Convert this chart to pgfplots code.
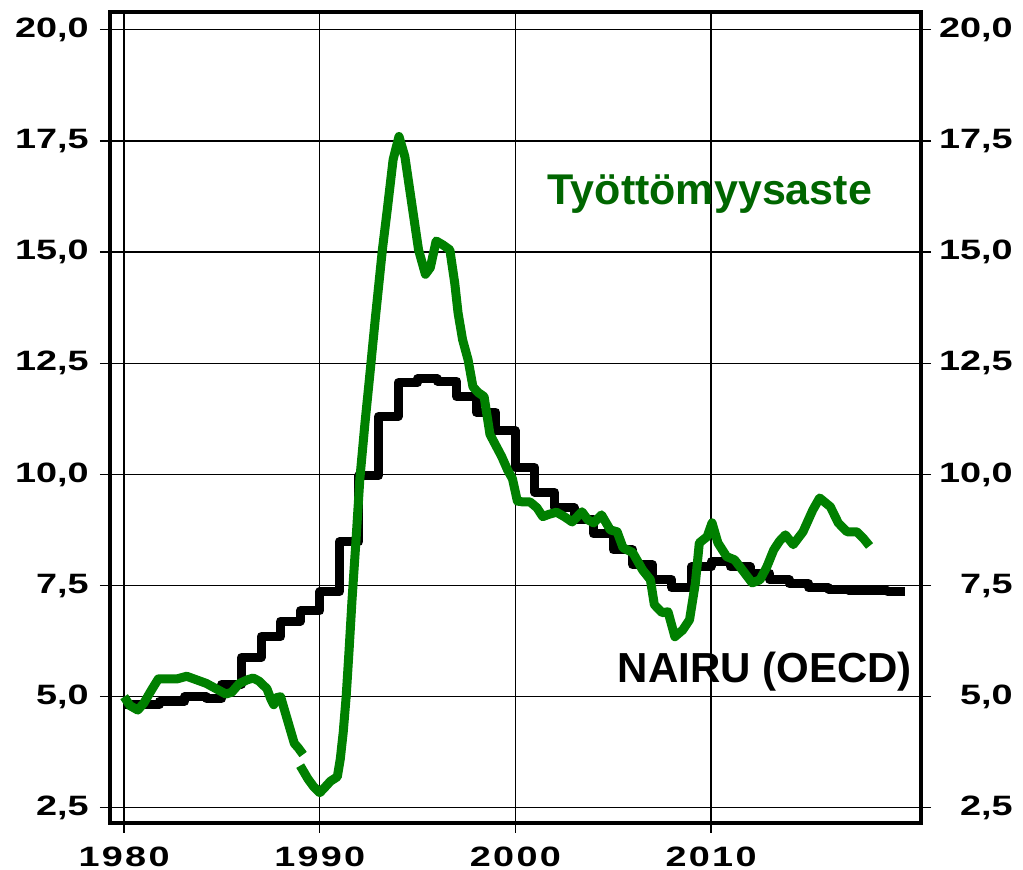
\documentclass[border=0pt]{standalone}
\usepackage{graphicx}
\usepackage{pgfplots}
\pgfplotsset{compat=1.18}
\usepackage{fontspec}
\setmainfont{Liberation Sans}
\definecolor{lgreen}{RGB}{0,128,0}
\definecolor{tgreen}{RGB}{0,102,0}
\newcommand{\xs}{\hspace{0.85pt}}
\newcommand{\tlab}[1]{\mbox{\scalebox{1.35}[1]{\fontsize{14pt}{14pt}\selectfont\bfseries #1}}}
\begin{document}
\begin{tikzpicture}
\pgfplotsset{
  base/.style={
    scale only axis, width=405.5pt, height=405.5pt,
    xmin=1979.28, xmax=2020.73, ymin=2.16, ymax=20.40,
    axis line style={line width=2pt},
    tick align=outside, major tick length=5pt,
    every tick/.style={black, line width=0.6pt},
    ytick={2.5,5,7.5,10,12.5,15,17.5,20},
    yticklabels={{\tlab{2,5}},{\tlab{5,0}},{\tlab{7,5}},{\tlab{10,0}},{\tlab{12,5}},{\tlab{15,0}},{\tlab{17,5}},{\tlab{20,0}}},
    xtick={1980,1990,2000,2010},
    tick label style={inner sep=0pt},
  }
}
\begin{axis}[base, name=main,
  xtick pos=lower, ytick pos=both,
  xticklabels={{\tlab{1\xs9\xs8\xs0}},{\tlab{1\xs9\xs9\xs0}},{\tlab{2\xs0\xs0\xs0}},{\tlab{2\xs0\xs1\xs0}}},
  xticklabel style={anchor=north, yshift=-7pt},
  yticklabel style={anchor=east, xshift=-5.5pt},
  grid=major, major grid style={black, line width=0.6pt},
  clip=true,
]
\addplot[const plot, black, line width=4.5pt, line join=round] coordinates {
(1980.0,4.82) (1981.8,4.90) (1983.1,5.00) (1984.2,4.96) (1985.0,5.28)
(1986.0,5.88) (1987.0,6.35) (1988.0,6.70) (1989.0,6.93) (1990.0,7.36)
(1991.0,8.48) (1992.0,9.97) (1993.0,11.30) (1994.0,12.06) (1995.0,12.15)
(1996.0,12.10) (1997.0,11.75) (1998.0,11.40) (1999.0,10.98) (2000.0,10.15)
(2001.0,9.60) (2002.0,9.25) (2003.0,8.98) (2004.0,8.66) (2005.0,8.30)
(2006.0,7.97) (2007.0,7.63) (2008.0,7.45) (2009.0,7.92) (2010.0,8.03)
(2011.0,7.92) (2012.0,7.78) (2013.0,7.63) (2014.0,7.54) (2015.0,7.45)
(2016.0,7.42) (2017.0,7.40) (2018.0,7.38) (2019.0,7.37) (2019.9,7.37)
};
\addplot[lgreen, line width=4.5pt, line join=round] coordinates {
(1980.0,5.00) (1980.3,4.80) (1980.7,4.70) (1981.0,4.85) (1981.4,5.15)
(1981.75,5.40) (1982.2,5.40) (1982.7,5.40) (1983.2,5.46) (1983.7,5.38)
(1984.2,5.30) (1984.7,5.18) (1985.2,5.06) (1985.5,5.10) (1985.9,5.30)
(1986.3,5.38) (1986.6,5.42) (1986.9,5.35) (1987.3,5.18) (1987.5,4.95)
(1987.65,4.82) (1987.8,4.98) (1988.0,5.00) (1988.3,4.55) (1988.5,4.25)
(1988.7,3.95) (1988.9,3.85) (1989.15,3.70)
};
\addplot[lgreen, line width=4.5pt, line join=round] coordinates {
(1989.0,3.45) (1989.2,3.30) (1989.4,3.15) (1989.7,2.97) (1990.0,2.84)
(1990.3,2.98) (1990.55,3.10) (1990.9,3.20) (1991.05,3.60) (1991.2,4.20)
(1991.35,5.00) (1991.5,6.05) (1991.65,7.18) (1991.85,8.50) (1992.05,9.90)
(1992.3,11.10) (1992.55,12.20) (1992.85,13.55) (1993.2,15.05) (1993.45,15.95)
(1993.75,17.08) (1994.05,17.60) (1994.35,17.15) (1994.7,16.10) (1995.05,15.05)
(1995.4,14.50) (1995.65,14.65) (1995.95,15.25) (1996.3,15.16) (1996.65,15.05)
(1996.9,14.30) (1997.07,13.63) (1997.3,13.03) (1997.58,12.58) (1997.83,11.97)
(1998.1,11.84) (1998.4,11.75) (1998.7,10.90) (1999.0,10.65) (1999.3,10.40)
(1999.6,10.10) (1999.85,9.90) (2000.1,9.40) (2000.4,9.38) (2000.75,9.38)
(2001.1,9.25) (2001.4,9.05) (2001.7,9.10) (2002.1,9.15) (2002.5,9.05)
(2002.9,8.93) (2003.4,9.16) (2003.7,8.98) (2004.0,8.91) (2004.4,9.09)
(2004.85,8.75) (2005.2,8.71) (2005.5,8.35) (2006.0,8.24) (2006.5,7.85)
(2006.9,7.63) (2007.1,7.07) (2007.5,6.89) (2007.8,6.91) (2008.15,6.35)
(2008.55,6.50) (2008.9,6.73) (2009.2,7.56) (2009.4,8.46) (2009.8,8.60)
(2010.05,8.91) (2010.35,8.46) (2010.8,8.15) (2011.2,8.08) (2011.6,7.85)
(2012.1,7.56) (2012.5,7.63) (2012.85,7.92) (2013.2,8.30) (2013.5,8.50)
(2013.8,8.64) (2014.2,8.42) (2014.7,8.71) (2015.2,9.20) (2015.55,9.47)
(2016.1,9.27) (2016.5,8.91) (2016.95,8.71) (2017.45,8.71) (2017.77,8.57)
(2018.1,8.39)
};
\node[anchor=base, text=tgreen, font=\fontsize{21.5pt}{21.5pt}\selectfont\bfseries, inner sep=0pt]
  at (axis cs:2009.94,16.06) {Työttömyysaste};
\node[anchor=base, text=black, font=\fontsize{21pt}{21pt}\selectfont\bfseries, inner sep=0pt]
  at (axis cs:2012.75,5.31) {NAIRU (OECD)};
\end{axis}
\begin{axis}[base,
  hide x axis,
  axis y line*=right,
  y axis line style={draw=none},
  major tick length=0pt,
  yticklabel style={anchor=east, xshift=46pt},
]
\addplot[draw=none] coordinates {(1980,5)};
\end{axis}
\path (main.south west) ++(-55pt,-23.5pt) rectangle ++(511.5pt,435pt);
\end{tikzpicture}
\end{document}
